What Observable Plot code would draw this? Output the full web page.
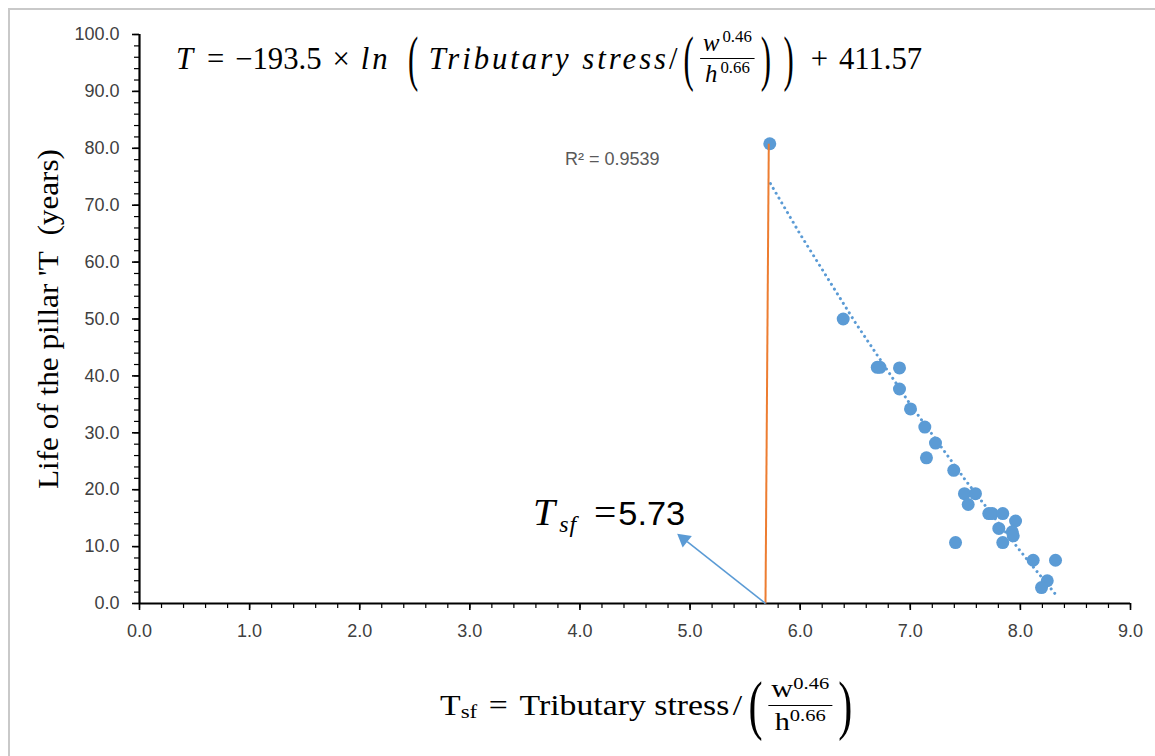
<!DOCTYPE html>
<html>
<head>
<meta charset="utf-8">
<script src="https://cdn.jsdelivr.net/npm/d3@7"></script>
<script src="https://cdn.jsdelivr.net/npm/@observablehq/plot@0.6"></script>
<style>
  body { margin: 0; background: #fff; }
  #wrap { position: relative; width: 1155px; height: 756px; overflow: hidden; background: #fff; }
  #border { position: absolute; left: 8px; top: 8px; width: 1300px; height: 900px;
            border-left: 2px solid #c9c9c9; border-top: 2px solid #c9c9c9; pointer-events: none; }
  .ov { position: absolute; white-space: nowrap; color: #000; }
  #eq { left: 176px; top: 58px; display: flex; align-items: center;
        font-family: "Liberation Serif", serif; font-size: 31px; line-height: 1; transform-origin: left center; }
  #eq .mi { font-style: italic; letter-spacing: 3px; }
  #eq .op { margin: 0 11px; }
  #eq .bp { display: inline-block; font-size: 62px; transform: scaleX(0.5); margin: 0 1px; line-height: 1; }
  .frac { display: inline-flex; flex-direction: column; align-items: center; line-height: 1.12; }
  #eq .frac { font-size: 25px; }
  .frac .num { border-bottom: 1.5px solid #000; padding: 0 3px 1px 3px; }
  .frac .den { padding: 1px 3px 0 3px; }
  .sup { position: relative; top: -0.5em; font-size: 0.68em; font-style: normal; letter-spacing: 0; }
  #xlab { left: 440px; top: 705px; display: flex; align-items: center;
          font-family: "Liberation Serif", serif; font-size: 29px; line-height: 1; transform-origin: left center; }
  #xlab .sub { font-size: 0.68em; position: relative; top: 0.35em; }
  #xlab .bp { display: inline-block; font-size: 66px; transform: scaleX(0.55); line-height: 1; }
  #xlab .frac { font-size: 26px; }
  #ylab { left: 48px; top: 319px; font-family: "Liberation Serif", serif; font-size: 29px; line-height: 1; }
  #r2 { left: 565px; top: 159px; font-family: "Liberation Sans", sans-serif; font-size: 18px; color: #595959;
        transform: translateY(-50%); }
  #tsf { left: 533px; top: 512px; display: flex; align-items: baseline; line-height: 1; transform-origin: left center; }
  #tsf .t { font-family: "Liberation Serif", serif; font-style: italic; font-size: 38px; }
  #tsf .s { font-family: "Liberation Serif", serif; font-style: italic; font-size: 23px; position: relative; top: 7px; margin-left: 4px; letter-spacing: 1px; }
  #tsf .eqs { font-family: "Liberation Serif", serif; font-size: 38px; margin-left: 16px; }
  #tsf .v { font-family: "Liberation Sans", sans-serif; font-size: 33px; margin-left: 2px; }
</style>
</head>
<body>
<div id="wrap">
  <div id="chart"></div>
  <div id="eq" class="ov"><span class="mi">T</span><span class="op">=</span><span>−193.5</span><span class="op">×</span><span class="mi">ln</span><span class="bp" style="margin-left:12px;margin-right:6px">(</span><span class="mi">Tributary stress</span><span>/</span><span class="bp">(</span><span class="frac"><span class="num"><span class="mi">w</span><span class="sup">0.46</span></span><span class="den"><span class="mi">h</span><span class="sup">0.66</span></span></span><span class="bp">)</span><span class="bp">)</span><span class="op">+</span><span>411.57</span></div>
  <div id="r2" class="ov">R² = 0.9539</div>
  <div id="tsf" class="ov"><span class="t">T</span><span class="s">sf</span><span class="eqs">=</span><span class="v">5.73</span></div>
  <div id="xlab" class="ov"><span>T</span><span class="sub">sf</span><span style="margin:0 10px">=</span><span>Tributary stress</span><span style="margin-left:3px">/</span><span class="bp">(</span><span class="frac"><span class="num"><span>w</span><span class="sup">0.46</span></span><span class="den"><span>h</span><span class="sup">0.66</span></span></span><span class="bp">)</span></div>
  <div id="ylab" class="ov">Life of the pillar 'T&nbsp;&nbsp;(years)</div>
  <div id="border"></div>
</div>
<script>
// ---- data ----
const stressX = [5.724, 6.391, 6.70, 6.725, 6.902, 6.902, 7.002, 7.132, 7.229, 7.147,
                 7.395, 7.492, 7.592, 7.526, 7.713, 7.744, 7.840, 7.956, 7.804, 7.926,
                 7.935, 7.840, 7.411, 8.116, 8.319, 8.244, 8.192];
const lifeY   = [80.8, 50.0, 41.5, 41.5, 41.4, 37.7, 34.2, 31.0, 28.2, 25.6,
                 23.4, 19.3, 19.3, 17.4, 15.8, 15.8, 15.8, 14.5, 13.2, 12.6,
                 11.9, 10.7, 10.7, 7.6, 7.6, 4.0, 2.8];
// logarithmic trend line (as displayed in the chart)
const trendX = [5.73, 6.0, 6.5, 7.0, 7.5, 8.0, 8.32];
const trendY = [73.8, 64.9, 49.4, 35.0, 21.7, 9.2, 1.6];
// T_sf marker line and arrow annotation
const tsfLine = [{x1: 5.685, y1: 0, x2: 5.715, y2: 80.8}];
const arrowShaft = [{x1: 5.685, y1: 0, x2: 4.974, y2: 10.86}];
const arrowHead = [{x: 4.944, y: 11.32, angle: -51.7}];
// ticks
const xMajor = [0, 1, 2, 3, 4, 5, 6, 7, 8, 9];
const yMajor = [0, 10, 20, 30, 40, 50, 60, 70, 80, 90, 100];
const xMinor = d3.range(0, 46).map(i => i * 0.2);
const yMinor = d3.range(0, 51).map(i => i * 2);

const points = stressX.map((x, i) => ({x, y: lifeY[i]}));
const trend = trendX.map((x, i) => ({x, y: trendY[i]}));
const blue = "#5b9bd5";

const chart = Plot.plot({
  width: 1155, height: 756,
  marginLeft: 139, marginRight: 25, marginTop: 34, marginBottom: 153,
  x: {domain: [0, 9]},
  y: {domain: [0, 100]},
  style: {fontFamily: "Liberation Sans, sans-serif", fontSize: "18px", background: "transparent", color: "#404040"},
  marks: [
    Plot.axisX({ticks: xMinor, tickSize: 5, tickFormat: () => "", label: null, stroke: "black", strokeWidth: 1.2}),
    Plot.axisX({ticks: xMajor, tickSize: 7, tickFormat: () => "", label: null, stroke: "black", strokeWidth: 1.6}),
    Plot.axisX({ticks: xMajor, tickSize: 0, tickPadding: 21, tickFormat: d => d.toFixed(1), label: null, fill: "#404040"}),
    Plot.axisY({ticks: yMinor, tickSize: 5, tickFormat: () => "", label: null, stroke: "black", strokeWidth: 1.2}),
    Plot.axisY({ticks: yMajor, tickSize: 7, tickFormat: () => "", label: null, stroke: "black", strokeWidth: 1.6}),
    Plot.axisY({ticks: yMajor, tickSize: 0, tickPadding: 20, tickFormat: d => d.toFixed(1), label: null, fill: "#404040"}),
    Plot.ruleY([0], {stroke: "black", strokeWidth: 2.2}),
    Plot.ruleX([0], {stroke: "black", strokeWidth: 2.2}),
    Plot.line(trend, {x: "x", y: "y", stroke: blue, strokeWidth: 3, strokeDasharray: "0.01,5.6", strokeLinecap: "round"}),
    Plot.dot(points, {x: "x", y: "y", r: 6.5, fill: blue}),
    Plot.link(tsfLine, {x1: "x1", y1: "y1", x2: "x2", y2: "y2", stroke: "#ed7d31", strokeWidth: 2}),
    Plot.link(arrowShaft, {x1: "x1", y1: "y1", x2: "x2", y2: "y2", stroke: blue, strokeWidth: 1.6}),
    Plot.dot(arrowHead, {x: "x", y: "y", symbol: "triangle", r: 5.5, fill: blue, rotate: "angle"})
  ]
});
document.getElementById("chart").appendChild(chart);

// stretch math-text overlays horizontally to the reference extents
function fit(id, target, pre) {
  const el = document.getElementById(id);
  const w = el.offsetWidth;
  el.style.transform = (pre || "") + " scaleX(" + (target / w) + ")";
}
fit("eq", 746, "translateY(-50%)");
fit("xlab", 418, "translateY(-50%)");
fit("tsf", 152, "translateY(-50%)");
(function () {
  const el = document.getElementById("ylab");
  const w = el.offsetWidth;
  el.style.transformOrigin = "center center";
  el.style.transform = "translate(-50%, -50%) rotate(-90deg) scaleX(" + (340 / w) + ")";
})();
</script>
</body>
</html>
